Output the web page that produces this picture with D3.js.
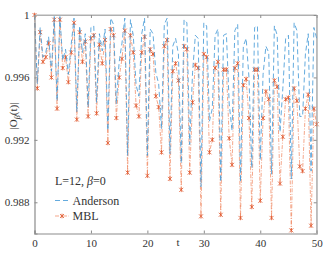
<!DOCTYPE html>
<html>
<head>
<meta charset="utf-8">
<script src="https://cdn.jsdelivr.net/npm/d3@7"></script>
<style>
  body { margin: 0; background: #fff; }
  svg text { font-family: 'Liberation Serif', 'Times New Roman', serif; fill: #333; }
</style>
</head>
<body>
<div id="chart"></div>
<script>
// time grid (t = 0, 0.5, ... 50)
let times = d3.range(0, 50.001, 0.5)

let mblValues = [
  1.0000, 0.9953, 0.9989, 0.9970, 0.9973, 0.9982, 0.9960, 0.9997, 0.9940, 0.9997,
  0.9966, 0.9973, 0.9957, 0.9976, 0.9995, 0.9933, 0.9989, 0.9970, 0.9983, 0.9935,
  0.9985, 0.9987, 0.9937, 0.9981, 0.9969, 0.9984, 0.9918, 0.9991, 0.9987, 0.9934,
  0.9960, 0.9972, 0.9990, 0.9899, 0.9987, 0.9976, 0.9942, 0.9935, 0.9976, 0.9986,
  0.9897, 0.9978, 0.9975, 0.9948, 0.9941, 0.9912, 0.9980, 0.9984, 0.9895, 0.9964,
  0.9969, 0.9958, 0.9888, 0.9980, 0.9978, 0.9899, 0.9944, 0.9968, 0.9966, 0.9871,
  0.9975, 0.9973, 0.9912, 0.9920, 0.9966, 0.9970, 0.9872, 0.9965, 0.9965, 0.9921,
  0.9904, 0.9966, 0.9969, 0.9870, 0.9955, 0.9959, 0.9934, 0.9877, 0.9965, 0.9965,
  0.9881, 0.9934, 0.9951, 0.9946, 0.9870, 0.9958, 0.9954, 0.9892, 0.9922, 0.9946,
  0.9947, 0.9862, 0.9953, 0.9945, 0.9903, 0.9900, 0.9940, 0.9949, 0.9865, 0.9940,
  0.9930
]

let andersonValues = [
  1.0000, 0.9956, 0.9992, 0.9973, 0.9976, 0.9986, 0.9964, 0.9999, 0.9945, 0.9999,
  0.9971, 0.9978, 0.9962, 0.9981, 0.9998, 0.9938, 0.9993, 0.9976, 0.9988, 0.9941,
  0.9992, 0.9993, 0.9944, 0.9988, 0.9977, 0.9991, 0.9926, 0.9998, 0.9994, 0.9943,
  0.9970, 0.9982, 0.9998, 0.9910, 0.9997, 0.9987, 0.9955, 0.9948, 0.9988, 0.9998,
  0.9910, 0.9991, 0.9988, 0.9963, 0.9956, 0.9927, 0.9994, 0.9998, 0.9911, 0.9980,
  0.9985, 0.9975, 0.9905, 0.9997, 0.9995, 0.9917, 0.9963, 0.9987, 0.9985, 0.9890,
  0.9995, 0.9993, 0.9932, 0.9940, 0.9987, 0.9991, 0.9893, 0.9987, 0.9988, 0.9943,
  0.9926, 0.9990, 0.9994, 0.9893, 0.9980, 0.9985, 0.9960, 0.9902, 0.9992, 0.9993,
  0.9907, 0.9962, 0.9980, 0.9976, 0.9898, 0.9993, 0.9987, 0.9925, 0.9953, 0.9985,
  0.9987, 0.9895, 0.9995, 0.9990, 0.9935, 0.9935, 0.9975, 0.9988, 0.9900, 0.9992,
  0.9985
]

let xTicks = [0, 10, 20, 30, 40, 50]
let yTicks = [0.988, 0.992, 0.996, 1]

let width = 334
let height = 260
let margin = { top: 15, left: 34.5, right: 17.3, bottom: 26.5 }

let svg = d3
  .select('#chart')
  .append('svg')
  .attr('width', width)
  .attr('height', height)

let xPositionScale = d3
  .scaleLinear()
  .domain([0, 50])
  .range([margin.left, width - margin.right])
let yPositionScale = d3
  .scaleLinear()
  .domain([0.986, 1])
  .range([height - margin.bottom, margin.top])

let x0 = margin.left
let x1 = width - margin.right
let y0 = height - margin.bottom
let y1 = margin.top

let mbl = times.map((t, i) => ({ t: t, v: mblValues[i] }))
let anderson = times.map((t, i) => ({ t: t, v: andersonValues[i] }))

let line = d3
  .line()
  .x(d => xPositionScale(d.t))
  .y(d => yPositionScale(d.v))

// frame: top and right in lighter gray
svg.append('path')
  .attr('d', `M${x0},${y1}H${x1}V${y0}`)
  .attr('fill', 'none')
  .attr('stroke', '#b0b0b0')
  .attr('stroke-width', 1)

// MBL line (dash-dot) with asterisk markers
svg.append('path')
  .datum(mbl)
  .attr('d', line)
  .attr('fill', 'none')
  .attr('stroke', '#ee7a4e')
  .attr('stroke-opacity', 0.65)
  .attr('stroke-width', 1)
  .attr('stroke-dasharray', '4,1.5,1,1.5')

let star = 'M-2,-2L2,2M-2,2L2,-2M0,-2.3L0,2.3'
svg.append('g')
  .selectAll('path')
  .data(mbl)
  .enter()
  .append('path')
  .attr('d', star)
  .attr('transform', d => `translate(${xPositionScale(d.t)},${yPositionScale(d.v)})`)
  .attr('fill', 'none')
  .attr('stroke', '#e0552b')
  .attr('stroke-width', 0.8)

// Anderson line (dashed)
svg.append('path')
  .datum(anderson)
  .attr('d', line)
  .attr('fill', 'none')
  .attr('stroke', '#3d96d6')
  .attr('stroke-opacity', 0.8)
  .attr('stroke-width', 1)
  .attr('stroke-dasharray', '5,3')

// axes
let xAxis = d3.axisBottom(xPositionScale).tickValues(xTicks).tickSize(-3).tickPadding(6)
svg.append('g')
  .attr('class', 'axis x-axis')
  .attr('transform', `translate(0,${y0})`)
  .call(xAxis)

let yAxis = d3.axisLeft(yPositionScale).tickValues(yTicks).tickSize(-3).tickPadding(5)
  .tickFormat(d => d === 1 ? '1' : d3.format('.3f')(d))
svg.append('g')
  .attr('class', 'axis y-axis')
  .attr('transform', `translate(${x0},0)`)
  .call(yAxis)

// mirrored ticks on top and right
svg.append('g')
  .attr('transform', `translate(0,${y1})`)
  .call(d3.axisTop(xPositionScale).tickValues(xTicks).tickSize(-3).tickFormat(''))
svg.append('g')
  .attr('transform', `translate(${x1},0)`)
  .call(d3.axisRight(yPositionScale).tickValues(yTicks).tickSize(-3).tickFormat(''))

svg.selectAll('g').attr('font-family', null)
svg.selectAll('.domain').attr('stroke', '#b0b0b0')
svg.selectAll('.x-axis .domain, .y-axis .domain').attr('stroke', '#8c8c8c').attr('stroke-width', 1.2)
svg.selectAll('.tick line').attr('stroke', '#8c8c8c')
svg.selectAll('.tick text')
  .attr('font-size', 11)
  .attr('fill', '#333')

// axis titles
svg.append('text')
  .attr('x', 178)
  .attr('y', 246)
  .attr('text-anchor', 'middle')
  .attr('font-size', 11)
  .text('t')

let yLabel = svg.append('text')
  .attr('transform', 'translate(17,116) rotate(-90)')
  .attr('text-anchor', 'middle')
  .attr('font-size', 11)
yLabel.append('tspan').text('|O')
yLabel.append('tspan').attr('font-style', 'italic').attr('font-size', 8).attr('dy', 3).text('β')
yLabel.append('tspan').attr('dy', -3).text('(t)|')

// annotation
let note = svg.append('text')
  .attr('x', 55)
  .attr('y', 185)
  .attr('font-size', 12)
note.append('tspan').text('L=12, ')
note.append('tspan').attr('font-style', 'italic').text('β')
note.append('tspan').text('=0')

// legend
let legend = svg.append('g')
legend.append('line')
  .attr('x1', 55).attr('x2', 69).attr('y1', 200.5).attr('y2', 200.5)
  .attr('stroke', '#3d96d6').attr('stroke-opacity', 0.8).attr('stroke-dasharray', '5,3')
legend.append('text').attr('x', 72.5).attr('y', 204.5).attr('font-size', 12).text('Anderson')
legend.append('line')
  .attr('x1', 55).attr('x2', 69).attr('y1', 216).attr('y2', 216)
  .attr('stroke', '#ee7a4e').attr('stroke-opacity', 0.65).attr('stroke-dasharray', '4,1.5,1,1.5')
legend.append('path')
  .attr('d', star)
  .attr('transform', 'translate(62,216)')
  .attr('fill', 'none').attr('stroke', '#e0552b').attr('stroke-width', 0.8)
legend.append('text').attr('x', 72.5).attr('y', 220).attr('font-size', 12).text('MBL')
</script>
</body>
</html>
